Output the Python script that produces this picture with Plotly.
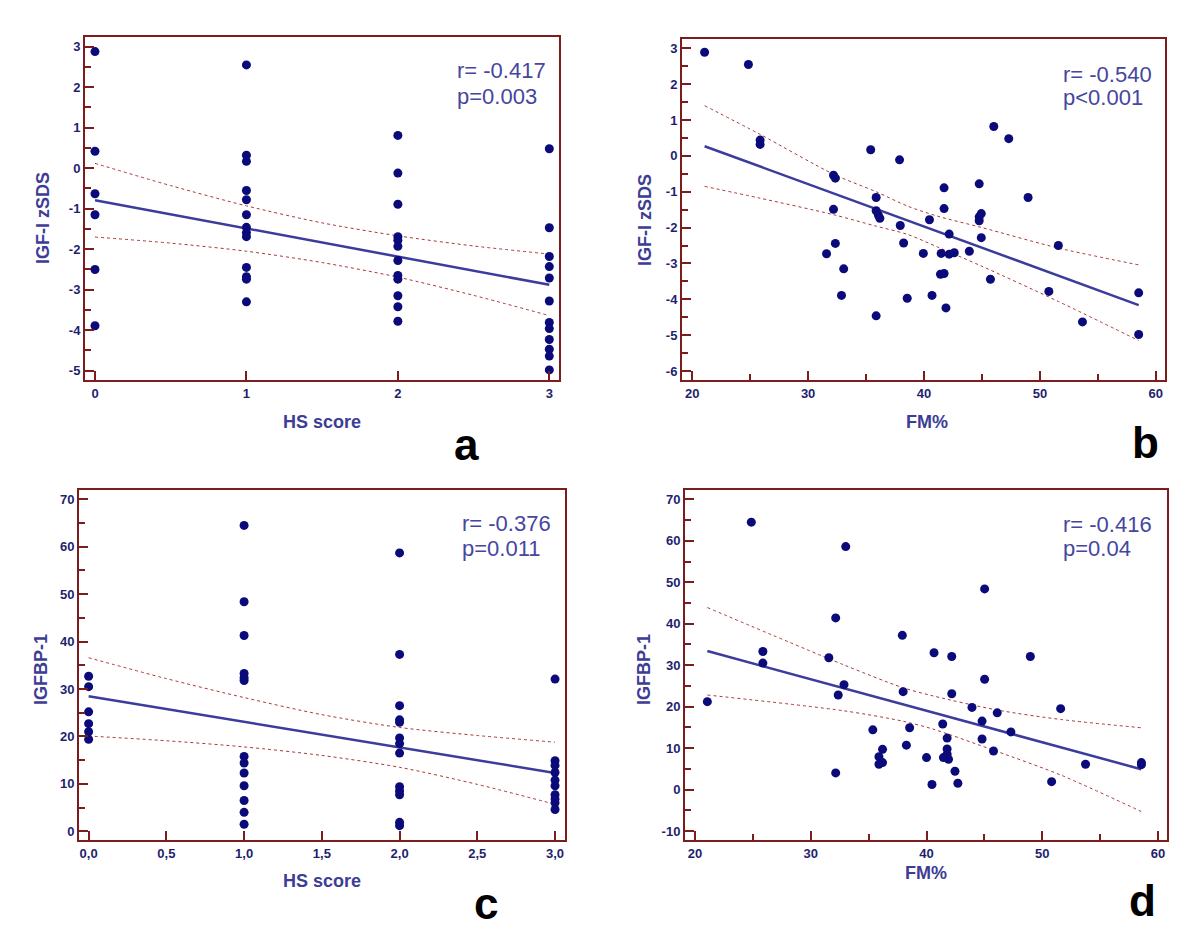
import plotly.graph_objects as go

W, H = 1200, 940

# ---------------- data ----------------
# Panel a: HS score vs IGF-I zSDS
hs_a = [0, 0, 0, 0, 0, 0,
        1, 1, 1, 1, 1, 1, 1, 1, 1, 1, 1, 1, 1,
        2, 2, 2, 2, 2, 2, 2, 2, 2, 2, 2, 2,
        3, 3, 3, 3, 3, 3, 3, 3, 3, 3, 3, 3]
igf_a = [2.88, 0.42, -0.63, -1.15, -2.50, -3.89,
         2.55, 0.32, 0.17, -0.55, -0.78, -1.15, -1.46, -1.59, -1.69, -2.45, -2.68, -2.74, -3.30,
         0.81, -0.12, -0.89, -1.69, -1.78, -1.93, -2.28, -2.65, -2.74, -3.15, -3.42, -3.78,
         0.48, -1.47, -2.18, -2.43, -2.71, -3.28, -3.81, -3.96, -4.23, -4.47, -4.64, -4.98]
fit_a_x = [0, 3]
fit_a_y = [-0.79, -2.88]
ci_a_x = [0, 0.5, 1, 1.5, 2, 2.5, 3]
ci_a_up = [0.12, -0.43, -0.93, -1.35, -1.67, -1.92, -2.12]
ci_a_lo = [-1.70, -1.85, -2.05, -2.33, -2.69, -3.14, -3.64]

# Panel b: FM% vs IGF-I zSDS
fm_b = [21.07, 24.85, 25.86, 25.86, 35.40, 37.89, 32.19, 32.35, 41.73, 44.76,
        46.02, 47.31, 48.98, 35.87, 32.19, 35.87, 36.06, 36.19, 40.47, 41.73,
        44.76, 44.94, 44.76, 37.95, 42.17, 44.94, 38.24, 32.35, 31.59, 33.07,
        39.94, 41.48, 42.17, 42.61, 43.91, 51.59, 45.73, 41.42, 41.73, 32.88,
        38.55, 40.69, 41.89, 35.87, 50.77, 53.67, 58.52, 58.52]
igf_b = [2.89, 2.55, 0.44, 0.32, 0.17, -0.11, -0.54, -0.62, -0.89, -0.78,
         0.82, 0.48, -1.16, -1.16, -1.49, -1.53, -1.65, -1.74, -1.78, -1.47,
         -1.70, -1.61, -1.81, -1.94, -2.18, -2.28, -2.43, -2.44, -2.73, -3.15,
         -2.72, -2.72, -2.74, -2.70, -2.66, -2.50, -3.44, -3.30, -3.28, -3.89,
         -3.97, -3.89, -4.24, -4.46, -3.78, -4.63, -3.82, -4.98]
fit_b_x = [21.07, 58.52]
fit_b_y = [0.27, -4.16]
ci_b_x = [21.07, 25.86, 32.19, 35.87, 38.58, 41.16, 45.01, 51.59, 58.52]
ci_b_up = [1.40, 0.60, -0.51, -1.00, -1.40, -1.68, -2.00, -2.57, -3.04]
ci_b_lo = [-0.85, -1.18, -1.64, -1.96, -2.19, -2.54, -3.08, -4.06, -5.15]

# Panel c: HS score vs IGFBP-1
hs_c = [0, 0, 0, 0, 0, 0,
        1, 1, 1, 1, 1, 1, 1, 1, 1, 1, 1, 1, 1,
        2, 2, 2, 2, 2, 2, 2, 2, 2, 2, 2, 2, 2,
        3, 3, 3, 3, 3, 3, 3, 3, 3, 3]
bp_c = [32.7, 30.5, 25.2, 22.7, 21.0, 19.4,
        64.5, 48.4, 41.3, 33.3, 32.4, 31.8, 15.8, 14.4, 12.3, 9.6, 6.5, 4.0, 1.5,
        58.7, 37.3, 26.5, 23.5, 23.0, 19.7, 18.5, 16.5, 9.4, 8.5, 7.7, 1.9, 1.2,
        32.1, 14.9, 13.9, 12.4, 10.8, 9.6, 7.7, 6.8, 6.0, 4.6]
fit_c_x = [0, 3]
fit_c_y = [28.5, 12.3]
ci_c_x = [0, 0.5, 1, 1.5, 2, 2.5, 3]
ci_c_up = [36.6, 32.2, 28.2, 24.6, 21.9, 20.2, 18.8]
ci_c_lo = [20.1, 19.1, 17.8, 16.0, 13.5, 9.9, 5.7]

# Panel d: FM% vs IGFBP-1
fm_d = [21.06, 24.86, 25.86, 25.86, 31.56, 32.15, 33.02, 32.87, 32.37, 32.15,
        35.36, 36.20, 35.89, 35.89, 36.20, 37.91, 37.98, 38.54, 38.26, 40.00,
        40.47, 40.65, 42.18, 42.18, 41.40, 41.78, 41.78, 41.78, 41.46, 41.90,
        42.46, 42.71, 43.93, 44.80, 44.80, 45.02, 45.02, 45.79, 46.11, 47.29,
        48.97, 50.81, 51.59, 53.74, 58.57, 58.57]
bp_d = [21.2, 64.5, 33.3, 30.5, 31.8, 41.4, 58.6, 25.3, 22.8, 4.0,
        14.4, 9.7, 7.9, 6.1, 6.5, 37.2, 23.6, 14.9, 10.7, 7.7,
        1.2, 33.0, 32.1, 23.1, 15.8, 12.4, 9.8, 8.5, 7.7, 7.3,
        4.4, 1.5, 19.8, 16.5, 12.2, 48.4, 26.6, 9.3, 18.5, 13.9,
        32.1, 1.9, 19.5, 6.1, 6.5, 6.0]
fit_d_x = [21.06, 58.55]
fit_d_y = [33.4, 4.9]
ci_d_x = [21.06, 32.83, 37.92, 40.54, 46.07, 51.59, 58.55]
ci_d_up = [43.9, 30.1, 24.6, 22.6, 19.2, 16.9, 14.9]
ci_d_lo = [22.8, 19.0, 16.5, 14.6, 9.2, 3.5, -5.3]

stats_text = [("r= -0.417", "p=0.003"), ("r= -0.540", "p<0.001"),
              ("r= -0.376", "p=0.011"), ("r= -0.416", "p=0.04")]
panel_letters = ["a", "b", "c", "d"]

# tick values / labels
xt_a = [0, 1, 2, 3]
xl_a = ["0", "1", "2", "3"]
yt_a = [-5, -4, -3, -2, -1, 0, 1, 2, 3]
yl_a = ["-5", "-4", "-3", "-2", "-1", "0", "1", "2", "3"]
ym_a = [-4.5, -3.5, -2.5, -1.5, -0.5, 0.5, 1.5, 2.5]
xt_b = [20, 30, 40, 50, 60]
xl_b = ["20", "30", "40", "50", "60"]
xm_b = [25, 35, 45, 55]
yt_b = [-6, -5, -4, -3, -2, -1, 0, 1, 2, 3]
yl_b = ["-6", "-5", "-4", "-3", "-2", "-1", "0", "1", "2", "3"]
ym_b = [-5.5, -4.5, -3.5, -2.5, -1.5, -0.5, 0.5, 1.5, 2.5]
xt_c = [0, 0.5, 1, 1.5, 2, 2.5, 3]
xl_c = ["0,0", "0,5", "1,0", "1,5", "2,0", "2,5", "3,0"]
yt_c = [0, 10, 20, 30, 40, 50, 60, 70]
yl_c = ["0", "10", "20", "30", "40", "50", "60", "70"]
ym_c = [5, 15, 25, 35, 45, 55, 65]
xt_d = [20, 30, 40, 50, 60]
xl_d = ["20", "30", "40", "50", "60"]
xm_d = [25, 35, 45, 55]
yt_d = [-10, 0, 10, 20, 30, 40, 50, 60, 70]
yl_d = ["-10", "0", "10", "20", "30", "40", "50", "60", "70"]
ym_d = [-5, 5, 15, 25, 35, 45, 55, 65]

# ---------------- style ----------------
FRAME = "#7d1c1c"
TICK = "#1f1f6e"
DOT = "#0a0a7a"
FIT = "#3c3c9c"
CI = "#a83a3a"
TITLE = "#3d3d96"
STAT = "#4646a0"
FONT = "Liberation Sans"


def px(x):
    return x / W


def py(y):
    return 1 - y / H


# frame boxes in pixels: left, right, top, bottom
boxes = [(77, 551, 29, 372), (674, 1157, 31, 372), (71, 557, 482, 832), (677, 1159, 482, 832)]

fig = go.Figure()

panels = [
    (hs_a, igf_a, fit_a_x, fit_a_y, ci_a_x, ci_a_up, ci_a_lo),
    (fm_b, igf_b, fit_b_x, fit_b_y, ci_b_x, ci_b_up, ci_b_lo),
    (hs_c, bp_c, fit_c_x, fit_c_y, ci_c_x, ci_c_up, ci_c_lo),
    (fm_d, bp_d, fit_d_x, fit_d_y, ci_d_x, ci_d_up, ci_d_lo),
]

for i, (xs, ys, fx, fy, cx, cu, cl) in enumerate(panels):
    n = "" if i == 0 else str(i + 1)
    xa, ya = "x" + n, "y" + n
    for cy in (cu, cl):
        fig.add_trace(go.Scatter(x=cx, y=cy, mode="lines", xaxis=xa, yaxis=ya,
                                 line=dict(color=CI, width=1, dash="dot", shape="spline", smoothing=0.8),
                                 hoverinfo="skip"))
    fig.add_trace(go.Scatter(x=fx, y=fy, mode="lines", xaxis=xa, yaxis=ya,
                             line=dict(color=FIT, width=2.5)))
    fig.add_trace(go.Scatter(x=xs, y=ys, mode="markers", xaxis=xa, yaxis=ya,
                             marker=dict(color=DOT, size=9, line=dict(width=0))))

tickfont = dict(family=FONT, size=13, color=TICK, weight="bold")


def axis(box, horizontal, rng, tickvals, ticktext, minor_vals=None):
    l, r, t, b = box
    d = dict(
        domain=[px(l), px(r)] if horizontal else [py(b), py(t)],
        range=rng, tickmode="array", tickvals=tickvals, ticktext=ticktext,
        ticks="inside", ticklen=9, tickwidth=2, tickcolor=FRAME,
        showline=True, linecolor=FRAME, linewidth=2, mirror=True,
        showgrid=False, zeroline=False, tickfont=tickfont,
    )
    if minor_vals:
        d["minor"] = dict(ticks="inside", ticklen=6, tickwidth=2, tickcolor=FRAME,
                          tickmode="array", tickvals=minor_vals, showgrid=False)
    return d


fig.update_layout(
    xaxis=dict(axis(boxes[0], True, [-0.066, 3.064], xt_a, xl_a), anchor="y"),
    yaxis=dict(axis(boxes[0], False, [-5.23, 3.24], yt_a, yl_a, ym_a), anchor="x"),
    xaxis2=dict(axis(boxes[1], True, [19.12, 60.79], xt_b, xl_b, xm_b), anchor="y2"),
    yaxis2=dict(axis(boxes[1], False, [-6.25, 3.26], yt_b, yl_b, ym_b), anchor="x2"),
    xaxis3=dict(axis(boxes[2], True, [-0.062, 3.064], xt_c, xl_c), anchor="y3"),
    yaxis3=dict(axis(boxes[2], False, [-1.83, 71.97], yt_c, yl_c, ym_c), anchor="x3"),
    xaxis4=dict(axis(boxes[3], True, [19.13, 60.78], xt_d, xl_d, xm_d), anchor="y4"),
    yaxis4=dict(axis(boxes[3], False, [-12.18, 72.26], yt_d, yl_d, ym_d), anchor="x4"),
)

annotations = []
# axis titles (pixel positions)
ytitles = [("IGF-I zSDS", 35, 210), ("IGF-I zSDS", 637, 212), ("IGFBP-1", 33, 662), ("IGFBP-1", 636, 662)]
xtitles = [("HS score", 314, 414), ("FM%", 919, 414), ("HS score", 314, 873), ("FM%", 918, 865)]
for txt, x, y in ytitles:
    annotations.append(dict(text=txt, x=px(x), y=py(y), xref="paper", yref="paper", showarrow=False,
                            textangle=-90, xanchor="center", yanchor="middle",
                            font=dict(family=FONT, size=18, color=TITLE, weight="bold")))
for txt, x, y in xtitles:
    annotations.append(dict(text=txt, x=px(x), y=py(y), xref="paper", yref="paper", showarrow=False,
                            xanchor="center", yanchor="middle",
                            font=dict(family=FONT, size=18, color=TITLE, weight="bold")))
# stats
stat_pos = [(447, 63, 88), (1053, 66, 90), (452, 515, 540), (1053, 516, 540)]
for (l1, l2), (x, y1, y2) in zip(stats_text, stat_pos):
    for txt, y in ((l1, y1), (l2, y2)):
        annotations.append(dict(text=txt, x=px(x), y=py(y), xref="paper", yref="paper", showarrow=False,
                                xanchor="left", yanchor="middle",
                                font=dict(family=FONT, size=22, color=STAT)))
# panel letters
letter_pos = [(458, 436), (1137, 434), (478, 895), (1134, 892)]
for txt, (x, y) in zip(panel_letters, letter_pos):
    annotations.append(dict(text=txt, x=px(x), y=py(y), xref="paper", yref="paper", showarrow=False,
                            xanchor="center", yanchor="middle",
                            font=dict(family=FONT, size=44, color="black", weight="bold")))

fig.update_layout(
    width=W, height=H, margin=dict(l=0, r=0, t=0, b=0),
    paper_bgcolor="white", plot_bgcolor="white", showlegend=False,
    annotations=annotations,
)

fig.write_html("out.html")
